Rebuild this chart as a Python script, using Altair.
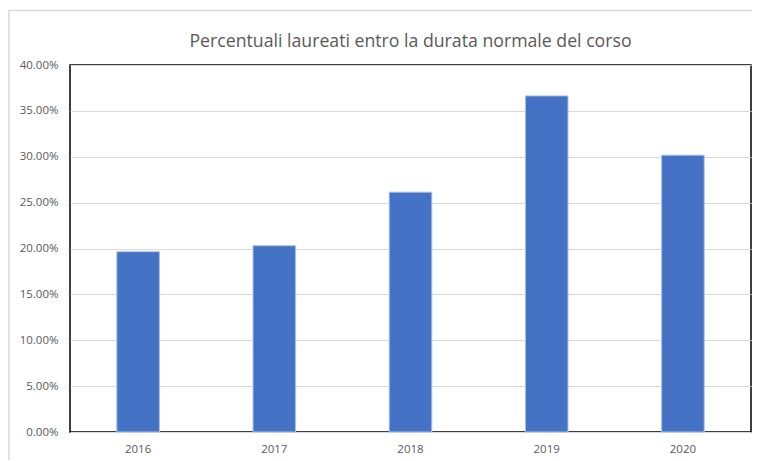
import altair as alt
import pandas as pd

years = ["2016", "2017", "2018", "2019", "2020"]
values = [0.1965, 0.2030, 0.2614, 0.3663, 0.3017]
y_ticks = [0.0, 0.05, 0.10, 0.15, 0.20, 0.25, 0.30, 0.35, 0.40]
title_text = "Percentuali laureati entro la durata normale del corso"

df = pd.DataFrame({"year": years, "value": values})

FONT = "Open Sans"
GRAY = "#595959"

bars = alt.Chart(df).mark_bar(
    color="#4472C4", stroke="#a9bfe6", strokeWidth=1
).encode(
    x=alt.X(
        "year:N",
        sort=years,
        scale=alt.Scale(paddingInner=0.6875, paddingOuter=0.34375),
        axis=alt.Axis(
            title=None, labelAngle=0, ticks=False, domain=False,
            labelPadding=11, labelFontSize=11.5, labelColor=GRAY, labelFont=FONT,
        ),
    ),
    y=alt.Y(
        "value:Q",
        scale=alt.Scale(domain=[0, 0.4], nice=False),
        axis=alt.Axis(
            title=None, format=".2%", values=y_ticks, ticks=False, domain=False,
            gridColor="#d9d9d9", gridWidth=1, labelPadding=12,
            labelFontSize=11.5, labelColor=GRAY, labelFont=FONT,
        ),
    ),
)

frame_df = pd.DataFrame({"k": [0]})
frame = alt.Chart(frame_df).mark_rect(
    fill=None, stroke="#d9d9d9", strokeWidth=1.5
).encode(
    x=alt.value(-61), y=alt.value(-54.5), x2=alt.value(900), y2=alt.value(600)
)

chart = alt.layer(frame, bars).properties(
    width=681,
    height=367,
    background="white",
    title=alt.TitleParams(
        text=title_text, fontSize=17.7, font=FONT, color=GRAY,
        fontWeight="normal", anchor="middle", offset=12, frame="group",
        dy=53,
    ),
    autosize=alt.AutoSizeParams(type="none"),
    padding={"left": 62, "top": 57, "right": 1, "bottom": 28},
).configure_view(
    stroke="#000000", strokeWidth=1.5
)

chart.save("out.html", embed_options={"renderer": "svg", "actions": False})
